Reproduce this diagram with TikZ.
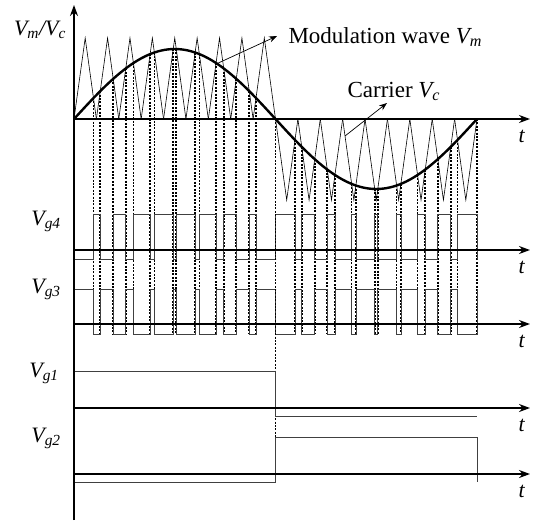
\documentclass[tikz,border=0pt]{standalone}
\usepackage{fontspec}
\setmainfont{Liberation Serif}
\usetikzlibrary{arrows.meta}

\tikzset{
  axis/.style={line width=1.7pt, -{Stealth[length=11pt,width=8pt]}},
  modwave/.style={line width=2.4pt},
  carrier/.style={line width=0.6pt},
  pulse/.style={line width=0.6pt, black!75},
  gate/.style={line width=1.7pt, dash pattern=on 2pt off 1.4pt},
  note/.style={line width=0.7pt, -{Stealth[length=8pt,width=6pt]}},
  sig/.style={font=\fontsize{22}{25}\selectfont},
  lbl/.style={font=\fontsize{23}{26}\selectfont},
}

\begin{document}
\begin{tikzpicture}[x=1pt, y=1pt]
\useasboundingbox (-74,-404) rectangle (461,119);
\def\hw{11.19444}
\def\kd{0.8933}% degrees per pt of the modulation wave
% carrier: unipolar, 9 teeth per half wave
\foreach \j in {0,...,8}
  \draw[carrier] ({2*\hw*\j},0) -- ({2*\hw*\j+\hw},81) -- ({2*\hw*\j+2*\hw},0);
\foreach \j in {9,...,17}
  \draw[carrier] ({2*\hw*\j},0) -- ({2*\hw*\j+\hw},-81) -- ({2*\hw*\j+2*\hw},0);
% crossings, gate pulses Vg4 / Vg3
\foreach \j in {0,...,17}{
  \pgfmathsetmacro{\xs}{2*\hw*\j}
  \pgfmathsetmacro{\xe}{\xs+2*\hw}
  \pgfmathsetmacro{\xa}{\xs+\hw*abs(sin(\kd*(\xs+0.5*\hw)))*0.8642}
  \pgfmathsetmacro{\xa}{\xs+\hw*abs(sin(\kd*\xa))*0.8642}
  \pgfmathsetmacro{\xa}{\xs+\hw*abs(sin(\kd*\xa))*0.8642}
  \pgfmathsetmacro{\xb}{\xe-\hw*abs(sin(\kd*(\xs+1.5*\hw)))*0.8642}
  \pgfmathsetmacro{\xb}{\xe-\hw*abs(sin(\kd*\xb))*0.8642}
  \pgfmathsetmacro{\xb}{\xe-\hw*abs(sin(\kd*\xb))*0.8642}
  \pgfmathsetmacro{\ya}{70*sin(\kd*\xa)}
  \pgfmathsetmacro{\yb}{70*sin(\kd*\xb)}
  \ifnum\j=0\else\ifnum\j=9\else \draw[gate] (\xa,\ya) -- (\xa,-215);\fi\fi
  \ifnum\j=8\else \draw[gate] (\xb,\yb) -- (\xb,-215);\fi
  \ifnum\j<9
    \draw[pulse] (\xs,-95) -- (\xa,-95) -- (\xa,-140) -- (\xb,-140) -- (\xb,-95) -- (\xe,-95);
    \draw[pulse] (\xs,-215) -- (\xa,-215) -- (\xa,-170) -- (\xb,-170) -- (\xb,-215) -- (\xe,-215);
  \else
    \draw[pulse] (\xs,-140) -- (\xa,-140) -- (\xa,-95) -- (\xb,-95) -- (\xb,-140) -- (\xe,-140);
    \draw[pulse] (\xs,-170) -- (\xa,-170) -- (\xa,-215) -- (\xb,-215) -- (\xb,-170) -- (\xe,-170);
  \fi
}
\draw[gate] (201.5,0) -- (201.5,-363);
% Vg1 / Vg2
\draw[pulse] (0,-252) -- (201.5,-252) -- (201.5,-297) -- (403,-297);
\draw[pulse] (0,-363) -- (201.5,-363) -- (201.5,-318) -- (403,-318) -- (403,-363);
% modulation wave
\draw[modwave] plot[domain=0:403, samples=121, smooth] (\x,{70*sin(\kd*\x)});
% axes
\draw[axis] (0,-401) -- (0,114);
\foreach \y in {0,-131,-205,-289,-355} \draw[axis] (0,\y) -- (456,\y);
\foreach \y/\n in {0/tm,-131/tg4,-205/tg3,-289/tg1,-355/tg2}
  \node[sig] (\n) at (448,{\y-17}) {\textit{t}};
\node[sig, anchor=base] (vmvc) at (-34,84) {\textit{V\textsubscript{m}/V\textsubscript{c}}};
\node[sig, anchor=base] (vg4) at (-28,-106) {\textit{V\textsubscript{g4}}};
\node[sig, anchor=base] (vg3) at (-28,-174) {\textit{V\textsubscript{g3}}};
\node[sig, anchor=base] (vg1) at (-30,-258) {\textit{V\textsubscript{g1}}};
\node[sig, anchor=base] (vg2) at (-28,-323) {\textit{V\textsubscript{g2}}};
% annotations
\node[lbl, anchor=base west] (mwlbl) at (211,76) {Modulation wave \textit{V\textsubscript{m}}};
\node[lbl, anchor=base west] (cvlbl) at (270,22) {Carrier \textit{V\textsubscript{c}}};
\coordinate (mwfoot) at (143,55.4);
\coordinate (mwtip) at (203,83);
\draw[note] (mwfoot) -- (mwtip);
\coordinate (cvfoot) at (271,-17);
\coordinate (cvtip) at (313,16);
\draw[note] (cvfoot) -- (cvtip);
\end{tikzpicture}
\end{document}
